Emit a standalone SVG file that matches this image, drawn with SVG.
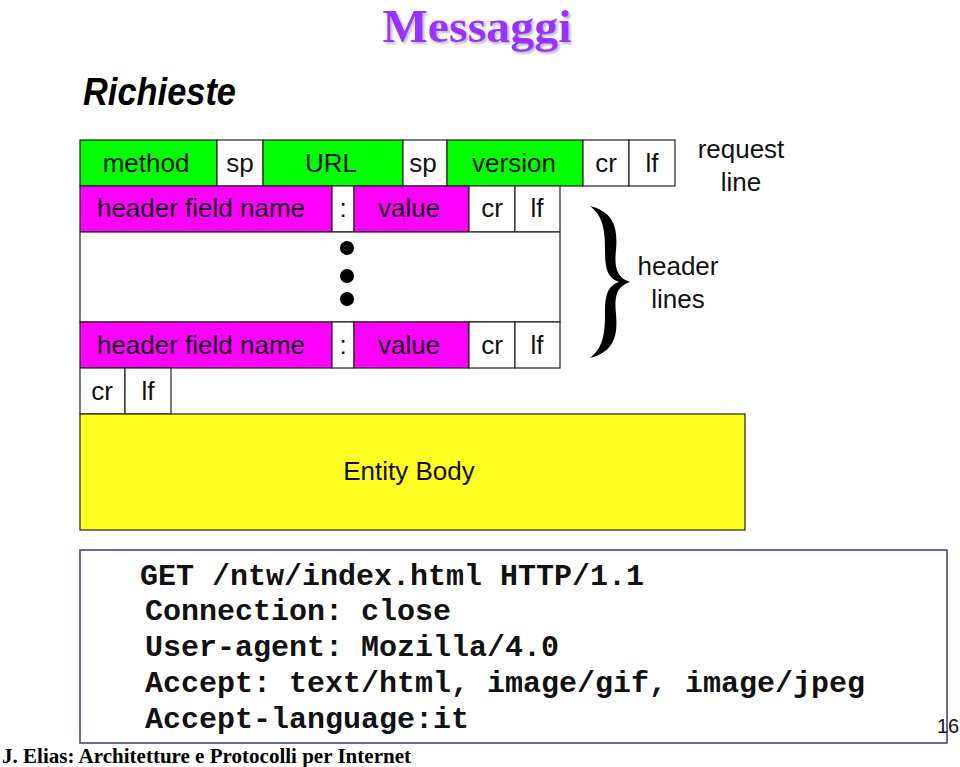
<svg xmlns="http://www.w3.org/2000/svg" width="960" height="767" viewBox="0 0 960 767">
<defs>
<filter id="shadow" x="-10%" y="-20%" width="130%" height="150%">
<feDropShadow dx="2" dy="2" stdDeviation="0.8" flood-color="#b8b8c4" flood-opacity="1"/>
</filter>
</defs>
<style>
.g{fill:#00ff00;stroke:#222;stroke-width:1.2}
.m{fill:#ff00ff;stroke:#222;stroke-width:1.2}
.w{fill:#ffffff;stroke:#222;stroke-width:1.2}
.y{fill:#ffff22;stroke:#222;stroke-width:1.2}
.t{font-family:"Liberation Sans",Arial,sans-serif;font-size:26px;fill:#111;text-anchor:middle}
.c{font-family:"Liberation Mono","Courier New",monospace;font-weight:bold;font-size:30px;fill:#111}
</style>
<rect width="960" height="767" fill="#ffffff"/>
<g id="title">
<text x="477" y="42" font-family="Liberation Serif,'Times New Roman',serif" font-weight="bold" font-size="46" fill="#9933ff" text-anchor="middle" textLength="189" lengthAdjust="spacingAndGlyphs" filter="url(#shadow)">Messaggi</text>
</g>
<text x="83" y="105" font-family="Liberation Sans,Arial,sans-serif" font-weight="bold" font-style="italic" font-size="39" fill="#000" textLength="153" lengthAdjust="spacingAndGlyphs">Richieste</text>
<g id="requestline">
<rect class="g" x="80" y="140" width="137" height="46"/><text class="t" x="146" y="172">method</text>
<rect class="w" x="217" y="140" width="46" height="46"/><text class="t" x="240" y="172">sp</text>
<rect class="g" x="263" y="140" width="140" height="46"/><text class="t" x="331" y="172">URL</text>
<rect class="w" x="403" y="140" width="44" height="46"/><text class="t" x="423" y="172">sp</text>
<rect class="g" x="447" y="140" width="136" height="46"/><text class="t" x="514" y="172">version</text>
<rect class="w" x="583" y="140" width="46" height="46"/><text class="t" x="606" y="172">cr</text>
<rect class="w" x="629" y="140" width="46" height="46"/><text class="t" x="652" y="172">lf</text>
</g>
<g id="headerline1">
<rect class="m" x="80" y="186" width="252" height="46"/><text class="t" x="201" y="217">header field name</text>
<rect class="w" x="332" y="186" width="22" height="46"/><text class="t" x="343" y="217">:</text>
<rect class="m" x="354" y="186" width="115" height="46"/><text class="t" x="409" y="217">value</text>
<rect class="w" x="469" y="186" width="46" height="46"/><text class="t" x="492" y="217">cr</text>
<rect class="w" x="515" y="186" width="45" height="46"/><text class="t" x="537" y="217">lf</text>
</g>
<g id="headergap">
<rect class="w" x="80" y="232" width="480" height="90"/>
<circle cx="347" cy="248" r="7" fill="#000"/>
<circle cx="347" cy="276" r="7" fill="#000"/>
<circle cx="347" cy="299" r="7" fill="#000"/>
</g>
<g id="headerline2">
<rect class="m" x="80" y="322" width="252" height="46"/><text class="t" x="201" y="354">header field name</text>
<rect class="w" x="332" y="322" width="22" height="46"/><text class="t" x="343" y="354">:</text>
<rect class="m" x="354" y="322" width="115" height="46"/><text class="t" x="409" y="354">value</text>
<rect class="w" x="469" y="322" width="46" height="46"/><text class="t" x="492" y="354">cr</text>
<rect class="w" x="515" y="322" width="45" height="46"/><text class="t" x="537" y="354">lf</text>
</g>
<g id="blankline">
<rect class="w" x="80" y="368" width="45" height="46"/><text class="t" x="102" y="400">cr</text>
<rect class="w" x="125" y="368" width="46" height="46"/><text class="t" x="148" y="400">lf</text>
</g>
<g id="entitybody">
<rect class="y" x="80" y="414" width="665" height="116"/>
<text class="t" x="409" y="480">Entity Body</text>
</g>
<g id="labels">
<text class="t" x="741" y="158">request</text>
<text class="t" x="741" y="191">line</text>
<path d="M590,206 C614,212 618,228 616,250 C614,268 617,278 630,282 C617,286 614,296 616,314 C618,336 614,352 590,358 C603,348 605,334 605,314 C605,296 607,286 619,282 C607,278 605,268 605,250 C605,230 603,216 590,206 Z" fill="#000"/>
<text class="t" x="678" y="275">header</text>
<text class="t" x="678" y="308">lines</text>
</g>
<g id="example">
<rect x="80" y="550" width="867" height="193" fill="#fff" stroke="#3a3a80" stroke-width="1.5"/>
<text class="c" x="140" y="585">GET /ntw/index.html HTTP/1.1</text>
<text class="c" x="145" y="620">Connection: close</text>
<text class="c" x="145" y="656">User-agent: Mozilla/4.0</text>
<text class="c" x="145" y="692">Accept: text/html, image/gif, image/jpeg</text>
<text class="c" x="145" y="728">Accept-language:it</text>
</g>
<text x="937" y="733" font-family="Liberation Sans,Arial,sans-serif" font-size="20" fill="#111">16</text>
<text x="2" y="763" font-family="Liberation Serif,'Times New Roman',serif" font-weight="bold" font-size="21" fill="#000" textLength="409" lengthAdjust="spacingAndGlyphs">J. Elias: Architetture e Protocolli per Internet</text>
</svg>
